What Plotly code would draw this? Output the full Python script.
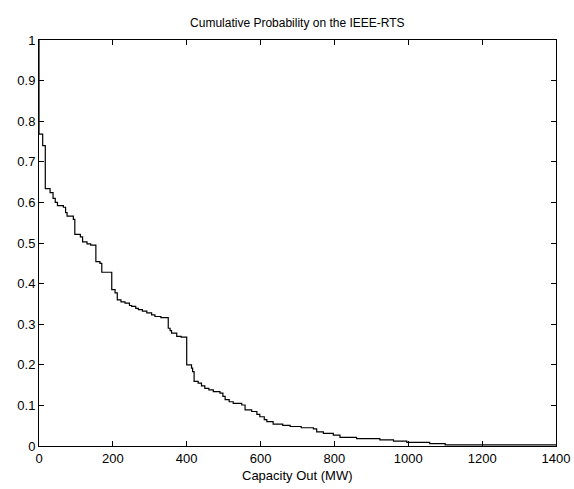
import plotly.graph_objects as go

# Capacity outage (MW) at which each step begins, and cumulative probability after it
capacity_out = [0, 0, 10, 17, 30, 38, 44, 50, 66, 72, 76, 93, 97, 112, 118, 130, 140,
                154, 165, 170, 197, 206, 212, 222, 233, 245, 251, 262, 269, 280, 292,
                305, 314, 330, 350, 355, 359, 373, 385, 400, 413, 416, 420, 431, 440,
                449, 460, 472, 490, 498, 504, 515, 526, 549, 558, 576, 590, 598, 610,
                617, 634, 660, 680, 710, 743, 752, 770, 797, 815, 860, 923, 960, 996,
                1058, 1100, 1400]
cum_prob = [1.0, 0.768, 0.740, 0.634, 0.624, 0.610, 0.600, 0.592, 0.588, 0.575, 0.566,
            0.558, 0.521, 0.515, 0.503, 0.498, 0.495, 0.454, 0.450, 0.428, 0.385, 0.377,
            0.360, 0.355, 0.352, 0.346, 0.344, 0.339, 0.336, 0.332, 0.328, 0.323, 0.319,
            0.316, 0.290, 0.284, 0.278, 0.270, 0.268, 0.200, 0.192, 0.183, 0.159, 0.155,
            0.148, 0.142, 0.138, 0.134, 0.130, 0.122, 0.114, 0.109, 0.105, 0.101, 0.089,
            0.085, 0.078, 0.072, 0.065, 0.060, 0.054, 0.051, 0.048, 0.045, 0.042, 0.035,
            0.031, 0.027, 0.021, 0.018, 0.015, 0.012, 0.009, 0.006, 0.003, 0.002]

x_ticks = [0, 200, 400, 600, 800, 1000, 1200, 1400]
y_ticks = [0, 0.1, 0.2, 0.3, 0.4, 0.5, 0.6, 0.7, 0.8, 0.9, 1]
y_tick_text = ["0", "0.1", "0.2", "0.3", "0.4", "0.5", "0.6", "0.7", "0.8", "0.9", "1"]

FONT = "Liberation Sans, Arial, sans-serif"

fig = go.Figure()
fig.add_trace(go.Scatter(
    x=capacity_out, y=cum_prob, mode="lines", line_shape="hv",
    line=dict(color="black", width=1.2), showlegend=False,
))

axis_common = dict(
    showline=True, linecolor="black", linewidth=1, mirror="ticks",
    ticks="inside", ticklen=5, tickcolor="black", tickwidth=1,
    showgrid=False, zeroline=False, automargin=False,
    tickfont=dict(family=FONT, size=13, color="black"),
)

fig.update_layout(
    width=574, height=489,
    margin=dict(l=39, r=18, t=40, b=43),
    paper_bgcolor="white", plot_bgcolor="white",
    title=dict(text="Cumulative Probability on the IEEE-RTS", x=0.518, xanchor="center",
               y=1 - 23 / 489, yanchor="middle",
               font=dict(family=FONT, size=12, color="black")),
    xaxis=dict(range=[0, 1400], tickvals=x_ticks, **axis_common),
    yaxis=dict(range=[0, 1], tickvals=y_ticks, ticktext=y_tick_text, **axis_common),
    annotations=[dict(text="Capacity Out (MW)", xref="paper", yref="paper",
                      x=0.5, y=-29 / 406, xanchor="center", yanchor="middle",
                      showarrow=False, font=dict(family=FONT, size=13, color="black"))],
)

fig.write_html("out.html")
